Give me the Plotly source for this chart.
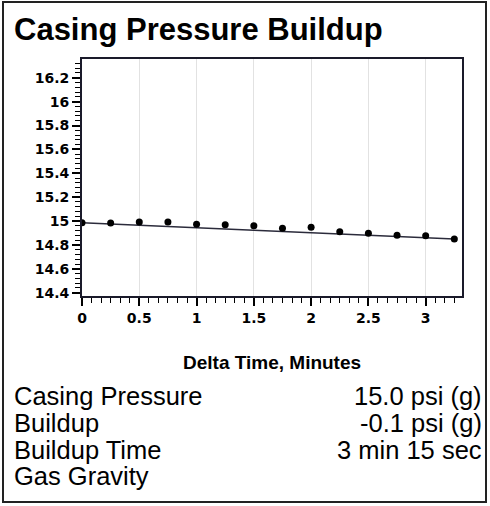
import plotly.graph_objects as go

# ---- data ----
delta_time_min = [0, 0.25, 0.5, 0.75, 1.0, 1.25, 1.5, 1.75, 2.0, 2.25, 2.5, 2.75, 3.0, 3.25]
pressure_psi = [14.986, 14.983, 14.992, 14.992, 14.972, 14.969, 14.961,
                14.939, 14.947, 14.910, 14.897, 14.880, 14.877, 14.849]
trend_x = [0, 3.25]
trend_y = [14.986, 14.849]

x_tick_vals = [0, 0.5, 1, 1.5, 2, 2.5, 3]
x_tick_text = ["0", "0.5", "1", "1.5", "2", "2.5", "3"]
y_tick_vals = [14.4, 14.6, 14.8, 15, 15.2, 15.4, 15.6, 15.8, 16, 16.2]
y_tick_text = ["14.4", "14.6", "14.8", "15", "15.2", "15.4", "15.6", "15.8", "16", "16.2"]

title_text = "Casing Pressure Buildup"
x_title = "Delta Time, Minutes"
info_labels = ["Casing Pressure", "Buildup", "Buildup Time", "Gas Gravity"]
info_values = ["15.0 psi (g)", "-0.1 psi (g)", "3 min 15 sec", ""]

# ---- layout geometry ----
W, H = 490, 506
ML, MR, MT, MB = 82, 28, 59, 210
PW, PH = W - ML - MR, H - MT - MB


def px(x):
    return (x - ML) / PW


def py(y):
    return (H - MB - y) / PH


fig = go.Figure()
fig.add_trace(go.Scatter(x=trend_x, y=trend_y, mode="lines",
                         line=dict(color="#2b2b3b", width=1.6),
                         hoverinfo="skip", showlegend=False))
fig.add_trace(go.Scatter(x=delta_time_min, y=pressure_psi, mode="markers",
                         marker=dict(color="black", size=7),
                         showlegend=False))

tickfont = dict(family="DejaVu Sans", size=14, color="black", weight="bold")

fig.update_xaxes(range=[0, 3.317], tickmode="array", tickvals=x_tick_vals, ticktext=x_tick_text,
                 ticks="outside", ticklen=8, tickwidth=1.5, tickcolor="black",
                 showline=True, linecolor="#1a1a2a", linewidth=1.8, mirror=True,
                 showgrid=True, gridcolor="#e2e2e2", gridwidth=1, zeroline=False,
                 tickfont=tickfont,
                 minor=dict(dtick=1 / 12, tick0=0, ticks="outside", ticklen=5, tickwidth=1.3,
                            tickcolor="black", showgrid=False))
fig.update_yaxes(range=[14.372, 16.357], tickmode="array", tickvals=y_tick_vals, ticktext=y_tick_text,
                 ticks="outside", ticklen=8, tickwidth=1.5, tickcolor="black",
                 showline=True, linecolor="#1a1a2a", linewidth=1.8, mirror=True,
                 showgrid=False, zeroline=False, tickfont=tickfont,
                 minor=dict(dtick=0.04, tick0=0, ticks="outside", ticklen=5, tickwidth=1.3,
                            tickcolor="black", showgrid=False))

annotations = [
    dict(text=title_text, x=px(12), y=py(30), xanchor="left", yanchor="middle",
         font=dict(family="Liberation Sans", size=31, color="black", weight="bold")),
    dict(text=x_title, x=px(272), y=py(362), xanchor="center", yanchor="middle",
         font=dict(family="Liberation Sans", size=19, color="black", weight="bold")),
]
line_centers = [396, 423, 449.5, 476]
for lab, val, yc in zip(info_labels, info_values, line_centers):
    annotations.append(dict(text=lab, x=px(12), y=py(yc), xanchor="left", yanchor="middle",
                            font=dict(family="Liberation Sans", size=25.5, color="black")))
    if val:
        annotations.append(dict(text=val, x=px(484), y=py(yc), xanchor="right", yanchor="middle",
                                font=dict(family="Liberation Sans", size=25.5, color="black")))
for a in annotations:
    a.update(xref="paper", yref="paper", showarrow=False)

fig.update_layout(
    width=W, height=H,
    margin=dict(l=ML, r=MR, t=MT, b=MB, pad=0),
    paper_bgcolor="white", plot_bgcolor="white",
    annotations=annotations,
    shapes=[dict(type="rect", xref="paper", yref="paper",
                 x0=px(3), x1=px(486), y0=py(502), y1=py(2),
                 line=dict(color="#222222", width=2), fillcolor="rgba(0,0,0,0)", layer="below")],
)

fig.write_html("out.html", config={"displayModeBar": False},
               post_script="document.body.style.margin='0';")
